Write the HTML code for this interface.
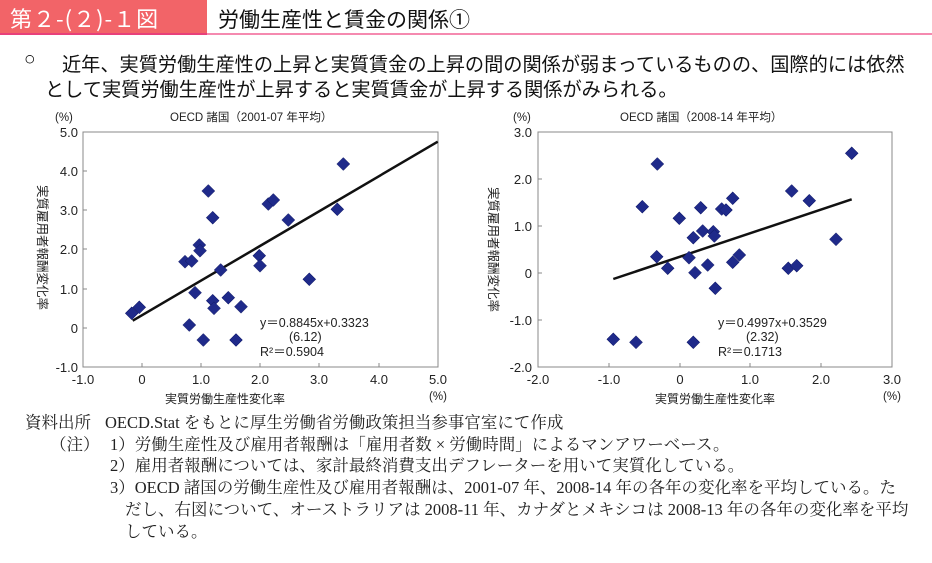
<!DOCTYPE html>
<html><head><meta charset="utf-8"><style>
body{margin:0;background:#fff;width:932px;height:563px;overflow:hidden;position:relative;font-family:"Liberation Sans","Noto Sans CJK JP",sans-serif}
.a{position:absolute;white-space:nowrap}
.s{font-family:"Liberation Serif","Noto Serif CJK SC",serif;font-size:16.5px;color:#222;line-height:20px}
</style></head><body>
<div class="a" style="left:0;top:0;width:207px;height:33px;background:#f26468;border-bottom:2px solid #e8407a"></div>
<div class="a" style="left:207px;top:0;width:725px;height:33px;border-bottom:2px solid #f58ab0"></div>
<div class="a" style="left:10px;top:2px;font-size:22px;color:#fff;letter-spacing:1px;font-family:'Noto Sans CJK JP',sans-serif">第２-(２)-１図</div>
<div class="a" style="left:218px;top:4px;font-size:21px;color:#111">労働生産性と賃金の関係①</div>
<div class="a" style="left:24px;top:49px;font-size:19.2px;color:#111">○</div>
<div class="a" style="left:62px;top:49px;font-size:19.2px;color:#111">近年、実質労働生産性の上昇と実質賃金の上昇の間の関係が弱まっているものの、国際的には依然</div>
<div class="a" style="left:45px;top:74px;font-size:19.2px;color:#111">として実質労働生産性が上昇すると実質賃金が上昇する関係がみられる。</div>
<svg class="a" style="left:0;top:0" width="932" height="563" font-family="Liberation Sans, Noto Sans CJK JP, sans-serif" fill="#222">
<defs><path id="d" d="M0,-6.5L6.5,0L0,6.5L-6.5,0Z" fill="#1f2a8a" stroke="#101860" stroke-width="0.5"/></defs>
<g font-size="13">
<text x="55" y="121" font-size="11.5">(%)</text>
<text x="170" y="121" font-size="11.5">OECD 諸国（2001-07 年平均）</text>
<rect x="83" y="132" width="355" height="235" fill="none" stroke="#888"/>
<g stroke="#888">
<line x1="83" y1="171" x2="87" y2="171"/><line x1="83" y1="210" x2="87" y2="210"/><line x1="83" y1="249" x2="87" y2="249"/><line x1="83" y1="289" x2="87" y2="289"/><line x1="83" y1="328" x2="87" y2="328"/>
<line x1="142" y1="367" x2="142" y2="363"/><line x1="201" y1="367" x2="201" y2="363"/><line x1="260" y1="367" x2="260" y2="363"/><line x1="319" y1="367" x2="319" y2="363"/><line x1="379" y1="367" x2="379" y2="363"/>
</g>
<g text-anchor="end"><text x="78" y="137">5.0</text><text x="78" y="176">4.0</text><text x="78" y="215">3.0</text><text x="78" y="254">2.0</text><text x="78" y="294">1.0</text><text x="78" y="333">0</text><text x="78" y="372">-1.0</text></g>
<g text-anchor="middle"><text x="83" y="384">-1.0</text><text x="142" y="384">0</text><text x="201" y="384">1.0</text><text x="260" y="384">2.0</text><text x="319" y="384">3.0</text><text x="379" y="384">4.0</text><text x="438" y="384">5.0</text>
<text x="225" y="403" font-size="12">実質労働生産性変化率</text><text x="438" y="400" font-size="11.5">(%)</text></g>
<text x="260" y="327" font-size="12.5">y＝0.8845x+0.3323</text><text x="289" y="341" font-size="12.5">(6.12)</text><text x="260" y="356" font-size="12.5">R²＝0.5904</text>
<text font-size="12.5" transform="translate(38,185) rotate(90)">実質雇用者報酬変化率</text>
</g>
<line x1="132.7" y1="320.7" x2="437.7" y2="141.7" stroke="#111" stroke-width="2.5"/>
<g>
<use href="#d" x="131.7" y="313.3"/><use href="#d" x="139.3" y="307.3"/><use href="#d" x="185" y="261.7"/><use href="#d" x="191.7" y="261"/><use href="#d" x="189.3" y="325"/><use href="#d" x="195" y="292.7"/><use href="#d" x="199.3" y="245"/><use href="#d" x="200" y="250.7"/><use href="#d" x="208.3" y="191"/><use href="#d" x="212.7" y="217.7"/><use href="#d" x="212.7" y="300.7"/><use href="#d" x="214" y="308.3"/><use href="#d" x="220.7" y="270"/><use href="#d" x="228.3" y="297.7"/><use href="#d" x="203.3" y="340"/><use href="#d" x="236" y="340"/><use href="#d" x="241" y="306.7"/><use href="#d" x="259.3" y="255.7"/><use href="#d" x="260" y="265.7"/><use href="#d" x="268.3" y="204"/><use href="#d" x="273.3" y="200"/><use href="#d" x="288.3" y="220"/><use href="#d" x="309.3" y="279.3"/><use href="#d" x="337.3" y="209.3"/><use href="#d" x="343.3" y="164"/>
</g>
<g font-size="13">
<text x="513" y="121" font-size="11.5">(%)</text>
<text x="620" y="121" font-size="11.5">OECD 諸国（2008-14 年平均）</text>
<rect x="538" y="132" width="354" height="235" fill="none" stroke="#888"/>
<g stroke="#888">
<line x1="538" y1="179" x2="542" y2="179"/><line x1="538" y1="226" x2="542" y2="226"/><line x1="538" y1="273" x2="542" y2="273"/><line x1="538" y1="320" x2="542" y2="320"/>
<line x1="609" y1="367" x2="609" y2="363"/><line x1="680" y1="367" x2="680" y2="363"/><line x1="750" y1="367" x2="750" y2="363"/><line x1="821" y1="367" x2="821" y2="363"/>
</g>
<g text-anchor="end"><text x="532" y="137">3.0</text><text x="532" y="184">2.0</text><text x="532" y="231">1.0</text><text x="532" y="278">0</text><text x="532" y="325">-1.0</text><text x="532" y="372">-2.0</text></g>
<g text-anchor="middle"><text x="538" y="384">-2.0</text><text x="609" y="384">-1.0</text><text x="680" y="384">0</text><text x="750" y="384">1.0</text><text x="821" y="384">2.0</text><text x="892" y="384">3.0</text>
<text x="715" y="403" font-size="12">実質労働生産性変化率</text><text x="892" y="400" font-size="11.5">(%)</text></g>
<text x="718" y="327" font-size="12.5">y＝0.4997x+0.3529</text><text x="746" y="341" font-size="12.5">(2.32)</text><text x="718" y="356" font-size="12.5">R²＝0.1713</text>
<text font-size="12.5" transform="translate(489,187) rotate(90)">実質雇用者報酬変化率</text>
</g>
<line x1="613.3" y1="279" x2="851.7" y2="199.3" stroke="#111" stroke-width="2.5"/>
<g>
<use href="#d" x="657.3" y="164"/><use href="#d" x="642.3" y="206.7"/><use href="#d" x="679.3" y="218.3"/><use href="#d" x="656.7" y="256.7"/><use href="#d" x="667.7" y="268.3"/><use href="#d" x="689" y="257.7"/><use href="#d" x="693.3" y="237.7"/><use href="#d" x="695" y="272.7"/><use href="#d" x="700.7" y="207.7"/><use href="#d" x="702.7" y="231"/><use href="#d" x="713.3" y="231.7"/><use href="#d" x="714.3" y="236"/><use href="#d" x="707.7" y="265"/><use href="#d" x="715.3" y="288.3"/><use href="#d" x="721.7" y="209"/><use href="#d" x="726" y="210"/><use href="#d" x="732.7" y="198.3"/><use href="#d" x="732.7" y="262.3"/><use href="#d" x="739.3" y="255"/><use href="#d" x="791.7" y="191"/><use href="#d" x="788.3" y="268.3"/><use href="#d" x="796.7" y="265.7"/><use href="#d" x="809.3" y="200.7"/><use href="#d" x="836" y="239.3"/><use href="#d" x="851.7" y="153.3"/><use href="#d" x="613.3" y="339.3"/><use href="#d" x="636" y="342.3"/><use href="#d" x="693.3" y="342.3"/>
</g>
</svg>
<div class="a s" style="left:25px;top:413px">資料出所</div>
<div class="a s" style="left:105px;top:413px">OECD.Stat をもとに厚生労働省労働政策担当参事官室にて作成</div>
<div class="a s" style="left:50px;top:435px">（注）</div>
<div class="a s" style="left:110px;top:435px">1）労働生産性及び雇用者報酬は「雇用者数 × 労働時間」によるマンアワーベース。</div>
<div class="a s" style="left:110px;top:456px">2）雇用者報酬については、家計最終消費支出デフレーターを用いて実質化している。</div>
<div class="a s" style="left:110px;top:478px">3）OECD 諸国の労働生産性及び雇用者報酬は、2001-07 年、2008-14 年の各年の変化率を平均している。た</div>
<div class="a s" style="left:125px;top:500px">だし、右図について、オーストラリアは 2008-11 年、カナダとメキシコは 2008-13 年の各年の変化率を平均</div>
<div class="a s" style="left:125px;top:522px">している。</div>
</body></html>
